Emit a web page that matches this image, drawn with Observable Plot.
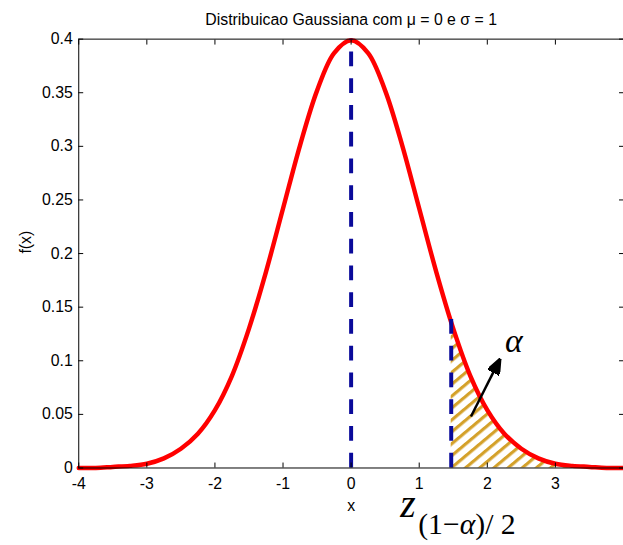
<!DOCTYPE html>
<html>
<head>
<meta charset="utf-8">
<script src="https://cdn.jsdelivr.net/npm/d3@7"></script>
<script src="https://cdn.jsdelivr.net/npm/@observablehq/plot@0.6"></script>
<style>
  html, body { margin: 0; padding: 0; background: #fff; overflow: hidden; }
  #chart { width: 623px; height: 545px; overflow: hidden; }
</style>
</head>
<body>
<div id="chart"></div>
<script>
// Standard normal density f(x), sampled every 0.25 from -4 to 4
const xs = [-4, -3.75, -3.5, -3.25, -3, -2.75, -2.5, -2.25, -2, -1.75, -1.5, -1.25, -1, -0.75, -0.5, -0.25,
            0, 0.25, 0.5, 0.75, 1, 1.25, 1.5, 1.75, 2, 2.25, 2.5, 2.75, 3, 3.25, 3.5, 3.75, 4];
const fx = [0.000, 0.000, 0.001, 0.002, 0.004, 0.009, 0.018, 0.032, 0.054, 0.086, 0.130, 0.183, 0.242, 0.301, 0.352, 0.387,
            0.399, 0.387, 0.352, 0.301, 0.242, 0.183, 0.130, 0.086, 0.054, 0.032, 0.018, 0.009, 0.004, 0.002, 0.001, 0.000, 0.000];

// Upper tail beyond the critical value (hatched region)
const tailX = [1.47, 1.5, 1.75, 2, 2.25, 2.5, 2.75, 3, 3.25, 3.5, 3.75, 4];
const tailY = [0.135, 0.130, 0.086, 0.054, 0.032, 0.018, 0.009, 0.004, 0.002, 0.001, 0.000, 0.000];

// Reference lines: the mean and the critical value
const meanX = 0, meanTop = 0.4;
const critX = 1.47, critTop = 0.145;

// Axis ticks (the last x tick sits on the clipped right edge, so it has no label)
const xTicks = [-4, -3, -2, -1, 0, 1, 2, 3, 4];
const xTickLabels = [-4, -3, -2, -1, 0, 1, 2, 3];
const yTicks = [0, 0.05, 0.1, 0.15, 0.2, 0.25, 0.3, 0.35, 0.4];

const titleText = "Distribuicao Gaussiana com \u03bc = 0 e \u03c3 = 1";
const subText = "(1\u2212\u03b1)/ 2";

const curve = xs.map((x, i) => ({x, y: fx[i]}));
const tail = tailX.map((x, i) => ({x, y: tailY[i]}));

const sans = "'Liberation Sans', Arial, Helvetica, sans-serif";
const serif = "'Liberation Serif', 'Times New Roman', serif";
const fmt = d => String(+d.toFixed(2));

// Filled triangular arrowhead
function headMarker(color, context) {
  const ns = "http://www.w3.org/2000/svg";
  const doc = context.document;
  const m = doc.createElementNS(ns, "marker");
  m.setAttribute("viewBox", "-16 -6.5 16 13");
  m.setAttribute("markerWidth", 16);
  m.setAttribute("markerHeight", 13);
  m.setAttribute("markerUnits", "userSpaceOnUse");
  m.setAttribute("orient", "auto");
  m.setAttribute("refX", 0);
  m.setAttribute("refY", 0);
  const p = doc.createElementNS(ns, "path");
  p.setAttribute("d", "M-16,-6.5L0,0L-16,6.5Z");
  p.setAttribute("fill", color);
  m.appendChild(p);
  return m;
}

const chart = Plot.plot({
  width: 629,
  height: 545,
  marginLeft: 79,
  marginRight: 0,
  marginTop: 39,
  marginBottom: 73,
  style: {fontFamily: sans, fontSize: "16px", color: "black", background: "white", overflow: "visible"},
  x: {domain: [-4, 4]},
  y: {domain: [0, 0.4]},
  marks: [
    Plot.areaY(tail, {x: "x", y: "y", fill: "url(#hatch-tail)", curve: "catmull-rom"}),
    Plot.line(curve, {x: "x", y: "y", stroke: "#ff0000", strokeWidth: 4.5, curve: "catmull-rom"}),
    Plot.ruleX([meanX], {y1: 0, y2: meanTop, stroke: "#0a0a9a", strokeWidth: 4, strokeDasharray: "15,12"}),
    Plot.ruleX([critX], {y1: 0, y2: critTop, stroke: "#0a0a9a", strokeWidth: 4, strokeDasharray: "15,12"}),
    Plot.link([{x1: 1.76, y1: 0.048, x2: 2.19, y2: 0.102}],
      {x1: "x1", y1: "y1", x2: "x2", y2: "y2", stroke: "black", strokeWidth: 2.5, markerEnd: headMarker}),
    Plot.text(["\u03b1"], {x: 2.39, y: 0.118, fontFamily: serif, fontStyle: "italic", fontSize: 34, textAnchor: "middle"}),
    Plot.text(["z"], {x: 0.72, y: -0.046, fontFamily: serif, fontStyle: "italic", fontSize: 40, textAnchor: "start", lineAnchor: "bottom"}),
    Plot.text([subText], {x: 0.985, y: -0.062, fontFamily: serif, fontSize: 30, letterSpacing: "1.5px", textAnchor: "start", lineAnchor: "bottom"}),
    Plot.frame({stroke: "black", strokeWidth: 1}),
    // inward ticks on all four sides
    Plot.axisX(xTicks, {anchor: "bottom", tickSize: -5, fill: "none"}),
    Plot.axisX(xTicks, {anchor: "top", tickSize: -5, fill: "none"}),
    Plot.axisY(yTicks, {anchor: "left", tickSize: -5, fill: "none"}),
    Plot.axisY(yTicks, {anchor: "right", tickSize: -5, fill: "none"}),
    // tick labels
    Plot.axisX(xTickLabels, {anchor: "bottom", tickSize: 0, tickPadding: 10, tickFormat: d => String(d), fontSize: 16, label: null}),
    Plot.axisY(yTicks, {anchor: "left", tickSize: 0, tickPadding: 6, tickFormat: fmt, fontSize: 16, label: null}),
    // title and axis labels
    Plot.text([titleText], {frameAnchor: "top", dy: -19, lineAnchor: "middle", fontSize: 16}),
    Plot.text(["x"], {frameAnchor: "bottom", dy: 38, lineAnchor: "middle", fontSize: 16}),
    Plot.text(["f(x)"], {frameAnchor: "left", dx: -53, rotate: -90, lineAnchor: "middle", fontSize: 16})
  ]
});

// Hatch pattern for the tail area
const svg = d3.select(chart);
const defs = svg.insert("defs", ":first-child");
const pat = defs.append("pattern")
  .attr("id", "hatch-tail")
  .attr("patternUnits", "userSpaceOnUse")
  .attr("width", 10)
  .attr("height", 9.2)
  .attr("patternTransform", "rotate(-40)");
pat.append("rect").attr("width", 10).attr("height", 3.2).attr("fill", "#d4a12a");

// Italic alpha inside the subscript
svg.selectAll("text").filter(function() { return this.textContent === subText; }).each(function() {
  const t = d3.select(this);
  t.text(null);
  t.append("tspan").text("(1\u2212");
  t.append("tspan").attr("font-style", "italic").text("\u03b1");
  t.append("tspan").text(")/ 2");
});

document.getElementById("chart").appendChild(chart);
</script>
</body>
</html>
